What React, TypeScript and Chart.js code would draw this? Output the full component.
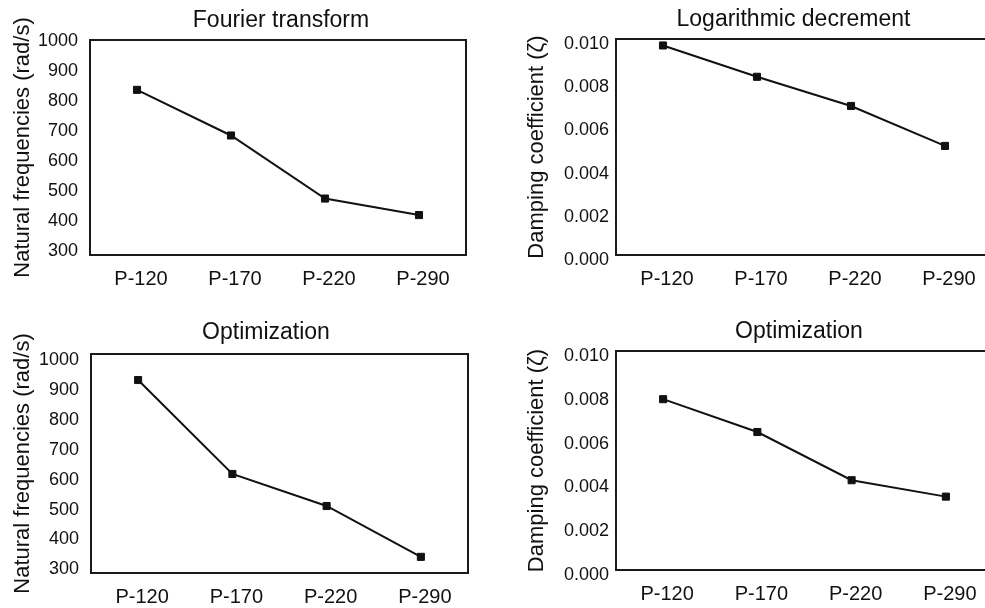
import React, { useEffect, useRef } from "react";
import { Chart, registerables } from "chart.js";

Chart.register(...registerables);

const categories = ["P-120", "P-170", "P-220", "P-290"];
const fourierFreq = [837, 685, 475, 420];
const logDecDamping = [0.0097, 0.00825, 0.0069, 0.00505];
const optFreq = [933, 619, 512, 342];
const optDamping = [0.0078, 0.0063, 0.0041, 0.00335];
const freqTicks = [300, 400, 500, 600, 700, 800, 900, 1000];
const dampTicks = [0, 0.002, 0.004, 0.006, 0.008, 0.01];

const FONT = "'Liberation Sans', Arial, Helvetica, sans-serif";

type Panel = {
  key: string;
  cx: number; cy: number; cw: number; ch: number;
  L: number; T: number; R: number; B: number;
  title: string; titlePadTop: number;
  yTitle: string; yTitlePad: number;
  values: number[]; ticks: number[]; min: number; max: number;
  decimals: number; tickPad: number; labelOffset: number;
};

const panels: Panel[] = [
  {
    key: "tl", cx: 0, cy: 0, cw: 562, ch: 300, L: 90, T: 40, R: 466, B: 255,
    title: "Fourier transform", titlePadTop: 6.5,
    yTitle: "Natural frequencies (rad/s)", yTitlePad: 10,
    values: fourierFreq, ticks: freqTicks, min: 287, max: 1003,
    decimals: 0, tickPad: 12, labelOffset: 0,
  },
  {
    key: "tr", cx: 490, cy: 0, cw: 607, ch: 300, L: 126, T: 39, R: 502, B: 255,
    title: "Logarithmic decrement", titlePadTop: 5.9,
    yTitle: "Damping coefficient (ζ)", yTitlePad: 33.5,
    values: logDecDamping, ticks: dampTicks, min: 0, max: 0.01,
    decimals: 3, tickPad: 7, labelOffset: 5,
  },
  {
    key: "bl", cx: 0, cy: 300, cw: 532, ch: 308, L: 91, T: 54, R: 468, B: 273,
    title: "Optimization", titlePadTop: 18.9,
    yTitle: "Natural frequencies (rad/s)", yTitlePad: 10,
    values: optFreq, ticks: freqTicks, min: 288, max: 1020,
    decimals: 0, tickPad: 12, labelOffset: 0,
  },
  {
    key: "br", cx: 490, cy: 300, cw: 618, ch: 308, L: 126, T: 51, R: 503, B: 270,
    title: "Optimization", titlePadTop: 18.2,
    yTitle: "Damping coefficient (ζ)", yTitlePad: 33.5,
    values: optDamping, ticks: dampTicks, min: 0, max: 0.01,
    decimals: 3, tickPad: 7, labelOffset: 5,
  },
];

const framePlugin = {
  id: "frame",
  beforeDatasetsDraw(chart: any) {
    const { ctx, chartArea: a } = chart;
    ctx.save();
    ctx.strokeStyle = "#1a1a1a";
    ctx.lineWidth = 2;
    ctx.strokeRect(a.left, a.top, a.right - a.left, a.bottom - a.top);
    ctx.restore();
  },
};

function PanelChart({ p }: { p: Panel }) {
  const ref = useRef<HTMLCanvasElement | null>(null);
  useEffect(() => {
    const canvas = ref.current;
    if (!canvas) return;
    const titleLH = 23 * 1.2;
    const chart = new Chart(canvas, {
      type: "line",
      data: {
        labels: categories,
        datasets: [
          {
            data: p.values,
            borderColor: "#111",
            borderWidth: 2,
            backgroundColor: "#111",
            pointStyle: "rect",
            pointRadius: 5,
            pointBorderWidth: 1,
            pointBorderColor: "#111",
            pointBackgroundColor: "#111",
            tension: 0,
            clip: false as any,
          },
        ],
      },
      plugins: [framePlugin],
      options: {
        responsive: false,
        animation: false,
        devicePixelRatio: 1,
        layout: { padding: 0 },
        plugins: {
          legend: { display: false },
          tooltip: { enabled: false },
          title: {
            display: true,
            text: p.title,
            color: "#111",
            font: { family: FONT, size: 23, weight: "normal" },
            padding: { top: p.titlePadTop, bottom: p.T - p.titlePadTop - titleLH },
            fullSize: true,
          },
        },
        scales: {
          x: {
            type: "category",
            offset: true,
            grid: { display: false, drawTicks: false },
            border: { display: false },
            ticks: {
              color: "#111",
              font: { family: FONT, size: 20 },
              padding: 12,
              labelOffset: 4,
              maxRotation: 0,
              autoSkip: false,
            },
            afterFit: (s: any) => {
              s.height = p.ch - p.B;
            },
          },
          y: {
            type: "linear",
            position: "left",
            min: p.min,
            max: p.max,
            grid: { display: false, drawTicks: false },
            border: { display: false },
            afterBuildTicks: (s: any) => {
              s.ticks = p.ticks.map((v) => ({ value: v }));
            },
            ticks: {
              color: "#111",
              font: { family: FONT, size: 18 },
              padding: p.tickPad,
              labelOffset: p.labelOffset,
              callback: (v: any) => Number(v).toFixed(p.decimals),
            },
            title: {
              display: true,
              text: p.yTitle,
              color: "#111",
              font: { family: FONT, size: 22 },
              padding: { top: p.yTitlePad, bottom: 0 },
            },
            afterFit: (s: any) => {
              s.width = p.L;
            },
          },
          yRight: {
            type: "linear",
            position: "right",
            display: true,
            grid: { display: false, drawTicks: false },
            border: { display: false },
            ticks: { display: false },
            afterFit: (s: any) => {
              s.width = p.cw - p.R;
            },
          },
        },
      } as any,
    });
    return () => chart.destroy();
  }, [p]);
  return (
    <canvas
      ref={ref}
      width={p.cw}
      height={p.ch}
      style={{
        position: "absolute",
        left: p.cx,
        top: p.cy,
        width: p.cw,
        height: p.ch,
      }}
    />
  );
}

export default function App() {
  return (
    <div
      style={{
        position: "absolute",
        left: 0,
        top: 0,
        width: 985,
        height: 608,
        overflow: "hidden",
        background: "#fff",
      }}
    >
      {panels.map((p) => (
        <PanelChart key={p.key} p={p} />
      ))}
    </div>
  );
}
